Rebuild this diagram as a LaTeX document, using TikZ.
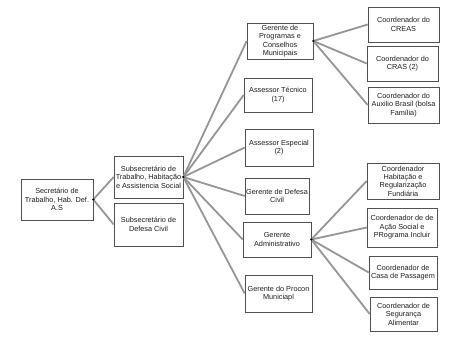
\documentclass[tikz,border=0pt]{standalone}
\usepackage{fontspec}
\setmainfont{Liberation Sans}
\usetikzlibrary{fit}
\definecolor{boxline}{RGB}{80,80,80}
\definecolor{txtcol}{RGB}{30,30,30}
\definecolor{conncol}{RGB}{150,150,150}
\tikzset{
  box/.style={draw=boxline, line width=0.6pt, fill=white, inner sep=0pt},
  txt/.style={align=center, font=\fontsize{7.3}{8.4}\selectfont, inner sep=0pt, text=txtcol},
  conn/.style={draw=conncol, line width=1.8pt},
  dot/.style={fill=black, circle, inner sep=0pt, minimum size=2.6pt},
}
\newcommand\bx[6]{%
  \node[box, fit={(#2,#3) (#4,#5)}] (#1) {};
  \node[txt] (#1t) at (#1.center) {#6};
}
\begin{document}
\begin{tikzpicture}[x=1pt,y=-1pt]
\useasboundingbox (0,0) rectangle (470,344);
\fill[white] (0,0) rectangle (470,344);
% boxes
\bx{sec}{21}{179}{93}{220}{Secretário de\\Trabalho, Hab. Def.\\A.S}
\bx{sub1}{114}{156}{183}{198}{Subsecretário de\\Trabalho, Habitação\\e Assistencia Social}
\bx{sub2}{114}{203}{183}{246}{Subsecretário de\\Defesa Civil}
\bx{gp}{247}{23}{313}{59}{Gerente de\\Programas e\\Conselhos\\Municipais}
\bx{at}{244}{78}{312}{112}{Assessor Técnico\\(17)}
\bx{ae}{245}{129}{313}{166}{Assessor Especial\\(2)}
\bx{gdc}{245}{178}{309}{214}{Gerente de Defesa\\Civil}
\bx{ga}{243}{222}{311}{257}{Gerente\\Administrativo}
\bx{gpr}{245}{275}{312}{312}{Gerente do Procon\\Municiapl}
\bx{creas}{368}{7}{439}{42}{Coordenador do\\CREAS}
\bx{cras}{367}{46}{438}{81}{Coordenador do\\CRAS (2)}
\bx{aux}{368}{87}{439}{123}{Coordenador do\\Auxilio Brasil (bolsa\\Família)}
\bx{hab}{367}{163}{439}{199}{Coordenador\\Habitação e\\Regularização\\Fundiária}
\bx{acao}{367}{208}{437}{247}{Coordenador de de\\Ação Social e\\PRograma Incluir}
\bx{casa}{369}{256}{437}{289}{Coordenador de\\Casa de Passagem}
\bx{seg}{370}{297}{437}{331}{Coordenador de\\Segurança\\Alimentar}
% connectors
\foreach \t in {sub1, sub2}
  \draw[conn] (sec.east) -- (\t.west);
\foreach \t in {gp, at, ae, gdc, ga, gpr}
  \draw[conn] (sub1.east) -- (\t.west);
\foreach \t in {creas, cras, aux}
  \draw[conn] (gp.east) -- (\t.west);
\foreach \t in {hab, acao, casa, seg}
  \draw[conn] (ga.east) -- (\t.west);
% dots
\node[dot] at (sec.east) {};
\node[dot] at (sub1.east) {};
\node[dot] at (gp.east) {};
\node[dot] at (ga.east) {};
\end{tikzpicture}
\end{document}
